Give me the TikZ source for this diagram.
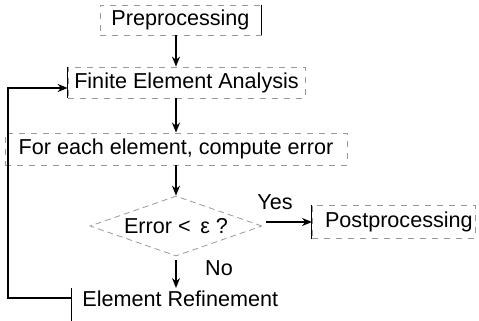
\documentclass[tikz,border=0pt]{standalone}
\usepackage{fontspec}
\setmainfont{Liberation Sans}
\usetikzlibrary{calc}
\usetikzlibrary{arrows.meta,shapes}
\usetikzlibrary{positioning}
\definecolor{boxgray}{gray}{0.6}
\tikzset{
  stepbox/.style={draw=boxgray, dashed, thin, inner sep=0pt},
  decide/.style={diamond, draw=boxgray, densely dashed, thin, inner sep=0pt,
    aspect=2.9, minimum width=86pt, minimum height=30pt},
  arr/.style={-{Stealth[length=5pt,width=4pt]}, line width=0.7pt},
  edge/.style={line width=0.5pt},
}
\begin{document}
\begin{tikzpicture}[x=0.5pt,y=-0.5pt,font=\fontsize{10.8}{12}\selectfont]
  \useasboundingbox (0,0) rectangle (479,321);
  \node[stepbox, minimum width=80.5pt, minimum height=15pt] (pre) at (180.5,20) {Preprocessing};
  \node[stepbox, minimum width=118.5pt, minimum height=15.5pt] (fea) at (186.5,82.5) {Finite Element Analysis};
  \node[stepbox, minimum width=171pt, minimum height=16pt] (err) at (176,149) {For each element, compute error};
  \node[decide] (dia) at (176,226) {Error <\, ε ?};
  \node[stepbox, minimum width=81.5pt, minimum height=16.5pt, anchor=west] (post) at (312,222) {\hspace*{5pt}Postprocessing\hfill};
  \node[anchor=north west, inner xsep=5pt, inner ysep=0pt, text height=9pt, text depth=8pt] (ref) at (72,288) {Element Refinement};
  \node (yes) at (275,202) {Yes};
  \node (no) at (219,268) {No};

  \draw[edge] (pre.north east) -- (pre.south east);
  \draw[edge] (fea.north west) -- (fea.south west);
  \draw[edge] (post.north west) -- (post.south west);
  \draw[edge] (ref.north west) -- (ref.south west);

  \draw[arr] (pre.south -| dia.north) -- (fea.north -| dia.north);
  \draw[arr] (fea.south -| dia.north) -- (err.north -| dia.north);
  \draw[arr] (err.south -| dia.north) -- (dia.north);
  \draw[arr, shorten <=2pt] (post.west -| dia.east) -- (post.west);
  \draw[arr, shorten <=2pt] (dia.south) -- (ref.north -| dia.south);
  \draw[arr] ([yshift=-5pt]ref.north west) -- ++(-64,0) |- ([yshift=-2.75pt]fea.west);
\end{tikzpicture}
\end{document}
